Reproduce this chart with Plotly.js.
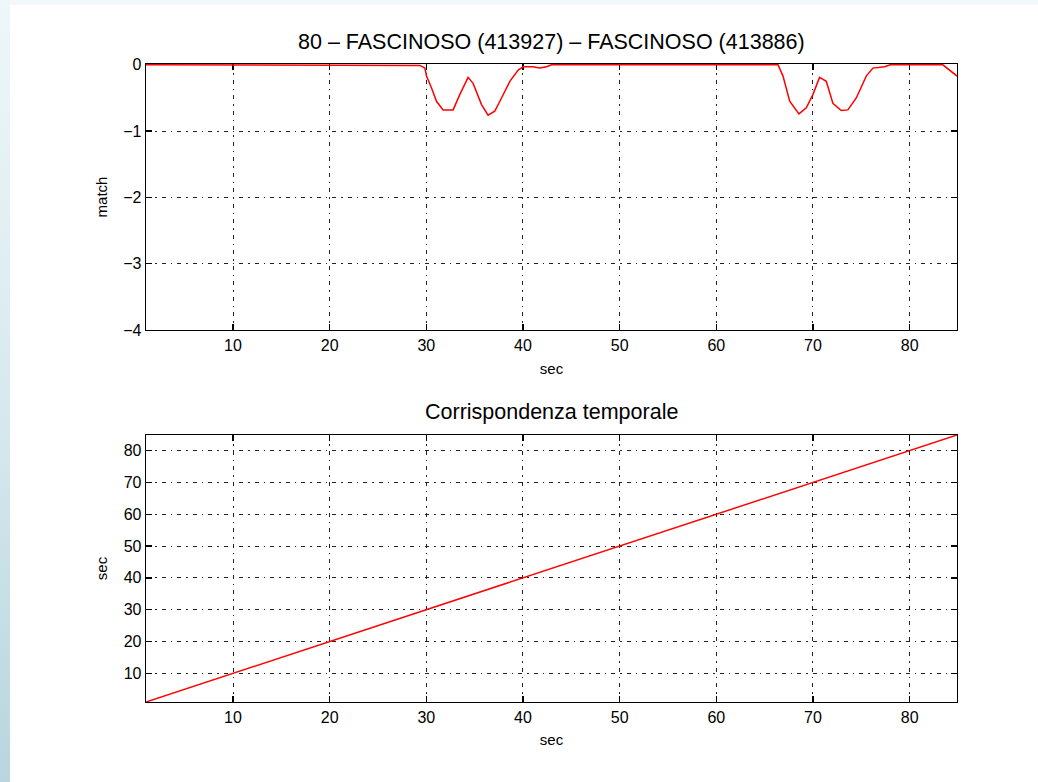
<!DOCTYPE html>
<html>
<head>
<meta charset="utf-8">
<script src="https://cdn.plot.ly/plotly-3.0.1.min.js"></script>
<style>
html,body{margin:0;padding:0;width:1038px;height:782px;overflow:hidden;background:#ffffff;}
#bgl{position:absolute;left:0;top:0;width:10px;height:782px;background:linear-gradient(to bottom,#eef7f9,#d8eaef 50%,#b9d5de);}
#bgt{position:absolute;left:10px;top:0;width:1028px;height:5px;background:#f3f9fb;}
#chart{position:absolute;left:0;top:0;width:1038px;height:782px;}
</style>
</head>
<body>
<div id="bgl"></div><div id="bgt"></div>
<div id="chart"></div>
<script>
// Top panel: match score over time (sec)
const matchTime = [1, 29.34, 29.85, 30.02, 30.54, 31.05, 31.74, 32.77, 33.46, 34.32, 34.84, 35.71, 36.39, 37.08, 37.61, 38.64, 39.50, 40.02, 41.02, 41.74, 42.44, 42.95,
  66.38, 66.90, 67.59, 68.55, 69.31, 69.99, 70.68, 71.38, 72.06, 72.93, 73.61, 74.48, 75.51, 76.20, 77.41, 78.0, 83.44, 84.9];
const matchValue = [0, -0.01, -0.05, -0.17, -0.35, -0.55, -0.68, -0.68, -0.45, -0.19, -0.28, -0.60, -0.76, -0.70, -0.55, -0.25, -0.08, -0.03, -0.03, -0.05, -0.03, 0,
  0, -0.17, -0.55, -0.74, -0.65, -0.45, -0.19, -0.25, -0.58, -0.69, -0.68, -0.50, -0.17, -0.05, -0.03, 0, 0, -0.17];
// Bottom panel: temporal correspondence
const corrX = [1, 84.9];
const corrY = [1, 84.9];
const xTicks = [10, 20, 30, 40, 50, 60, 70, 80];
const topYTicks = [0, -1, -2, -3, -4];
const botYTicks = [10, 20, 30, 40, 50, 60, 70, 80];

const topTitle = '80 \u2013 FASCINOSO (413927) \u2013 FASCINOSO (413886)';
const botTitle = 'Corrispondenza temporale';

const FONT = 'Liberation Sans, Arial, Helvetica, sans-serif';
const axBase = {
  showline: true, linecolor: '#000', linewidth: 1.3, mirror: 'ticks',
  ticks: 'inside', ticklen: 6, tickcolor: '#000', tickwidth: 1.3,
  showgrid: true, gridcolor: '#222', gridwidth: 1, griddash: '4px,5px,1.5px,5px',
  zeroline: false, layer: 'below traces',
  tickfont: {family: FONT, size: 16, color: '#000'}
};

const traces = [
  {x: matchTime, y: matchValue, type: 'scatter', mode: 'lines', line: {color: '#ff0000', width: 1.5}, xaxis: 'x', yaxis: 'y', hoverinfo: 'skip'},
  {x: corrX, y: corrY, type: 'scatter', mode: 'lines', line: {color: '#ff0000', width: 1.5}, xaxis: 'x2', yaxis: 'y2', hoverinfo: 'skip'}
];

const layout = {
  width: 1038, height: 782,
  margin: {l: 0, r: 0, t: 0, b: 0},
  paper_bgcolor: 'rgba(0,0,0,0)', plot_bgcolor: '#ffffff',
  showlegend: false,
  font: {family: FONT, color: '#000'},
  xaxis: Object.assign({}, axBase, {domain: [146/1038, 957/1038], range: [1, 84.9], tickvals: xTicks, anchor: 'y',
    title: {text: 'sec', font: {family: FONT, size: 15}, standoff: 11}}),
  yaxis: Object.assign({}, axBase, {domain: [1-330/782, 1-64/782], range: [-4, 0.012], tickvals: topYTicks, anchor: 'x',
    title: {text: 'match', font: {family: FONT, size: 15}, standoff: 12}}),
  xaxis2: Object.assign({}, axBase, {domain: [146/1038, 957/1038], range: [1, 84.9], tickvals: xTicks, anchor: 'y2',
    title: {text: 'sec', font: {family: FONT, size: 15}, standoff: 10}}),
  yaxis2: Object.assign({}, axBase, {domain: [1-702/782, 1-435/782], range: [1, 84.9], tickvals: botYTicks, anchor: 'x2',
    title: {text: 'sec', font: {family: FONT, size: 15}, standoff: 12}}),
  annotations: [
    {text: topTitle, xref: 'paper', yref: 'paper', x: (146+957)/2/1038, y: 1-42/782, xanchor: 'center', yanchor: 'middle', showarrow: false, font: {family: FONT, size: 21.5, color: '#000'}},
    {text: botTitle, xref: 'paper', yref: 'paper', x: (146+957)/2/1038, y: 1-412/782, xanchor: 'center', yanchor: 'middle', showarrow: false, font: {family: FONT, size: 21.5, color: '#000'}}
  ]
};

Plotly.newPlot('chart', traces, layout, {staticPlot: true, displayModeBar: false});
</script>
</body>
</html>
